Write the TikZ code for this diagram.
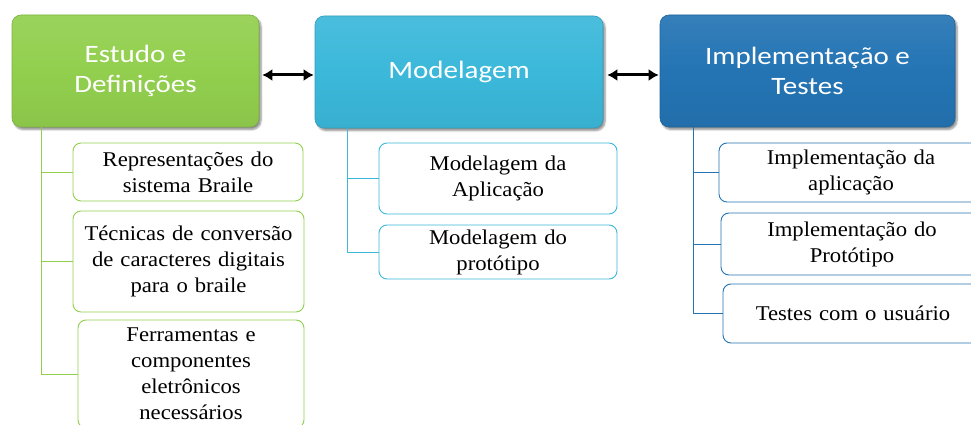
\documentclass[tikz,border=0pt]{standalone}
\usepackage{fontspec}
\setmainfont[FakeStretch=1.08]{Liberation Serif}
\newfontfamily\hdrfont[FakeStretch=1.16]{Carlito}
\usetikzlibrary{arrows.meta,shadows.blur}
\definecolor{cgreen}{HTML}{92CF4E}
\definecolor{ccyan}{HTML}{3BB8DA}
\definecolor{cblue}{HTML}{2474B4}
\tikzset{
  hdr/.style={rounded corners=9pt, inner sep=0pt, text=white, align=center,
    font=\hdrfont\fontsize{25}{30}\selectfont,
    blur shadow={shadow xshift=2pt, shadow yshift=-2.5pt, shadow blur steps=6, shadow opacity=45}},
  kid/.style={draw, rounded corners=8pt, fill=white, line width=0.9pt, align=center,
    inner sep=0pt, font=\fontsize{21}{26}\selectfont},
  tree/.style={line width=1pt},
  biarrow/.style={{Latex[length=10pt,width=12pt]}-{Latex[length=10pt,width=12pt]}, line width=3pt, black}
}
\begin{document}
\begin{tikzpicture}[x=1pt,y=-1pt]
\useasboundingbox (0,0) rectangle (971,425);
\clip (0,0) rectangle (971,425);

% headers
\node[hdr, minimum width=247pt, minimum height=112pt,
  top color=cgreen!92!white, bottom color=cgreen!95!black, middle color=cgreen,
  draw=cgreen!85!black, line width=0.6pt] (g) at (135.5,71) {Estudo e\\Definições};
\node[hdr, minimum width=288pt, minimum height=112pt,
  top color=ccyan!92!white, bottom color=ccyan!95!black, middle color=ccyan,
  draw=ccyan!85!black, line width=0.6pt] (c) at (459,72) {Modelagem};
\node[hdr, minimum width=295pt, minimum height=112pt,
  top color=cblue!92!white, bottom color=cblue!95!black, middle color=cblue,
  draw=cblue!85!black, line width=0.6pt] (b) at (807.5,71) {Implementação e\\Testes};

% arrows
\draw[biarrow, shorten <=3pt, shorten >=1pt] (g.east |- 0,75) -- (c.west |- 0,75);
\draw[biarrow, shorten <=4pt, shorten >=1pt] (c.east |- 0,75) -- (b.west |- 0,75);

% green children
\node[kid, draw=cgreen, text width=230pt, minimum height=58pt] (g1) at (188,172) {Representações do\\sistema Braile};
\node[kid, draw=cgreen, text width=231pt, minimum height=101pt] (g2) at (188.5,261.5) {Técnicas de conversão\\de caracteres digitais\\para o braile};
\node[kid, draw=cgreen, text width=226pt, minimum height=108pt] (g3) at (191,374) {Ferramentas e\\componentes\\eletrônicos\\necessários};

% cyan children
\node[kid, draw=ccyan, text width=238pt, minimum height=71pt] (c1) at (498,178.5) {Modelagem da\\Aplicação};
\node[kid, draw=ccyan, text width=238pt, minimum height=54pt] (c2) at (498,252) {Modelagem do\\protótipo};

% blue children
\node[kid, draw=cblue, text width=264pt, minimum height=59pt] (b1) at (851,172.5) {Implementação da\\aplicação};
\node[kid, draw=cblue, text width=262pt, minimum height=62pt] (b2) at (852,244) {Implementação do\\Protótipo};
\node[kid, draw=cblue, text width=260pt, minimum height=59pt] (b3) at (853,313.5) {Testes com o usuário};

% tree lines
\coordinate (gt) at (41,127);
\coordinate (ct) at (347,128);
\coordinate (bt) at (693,127);
\begin{scope}[tree, draw=cgreen]
  \draw (gt) |- (g3.west);
  \draw (g1.west -| gt) -- (g1.west);
  \draw (g2.west -| gt) -- (g2.west);
\end{scope}
\begin{scope}[tree, draw=ccyan]
  \draw (ct) |- (c2.west);
  \draw (c1.west -| ct) -- (c1.west);
\end{scope}
\begin{scope}[tree, draw=cblue]
  \draw (bt) |- (b3.west);
  \draw (b1.west -| bt) -- (b1.west);
  \draw (b2.west -| bt) -- (b2.west);
\end{scope}
\end{tikzpicture}
\end{document}
